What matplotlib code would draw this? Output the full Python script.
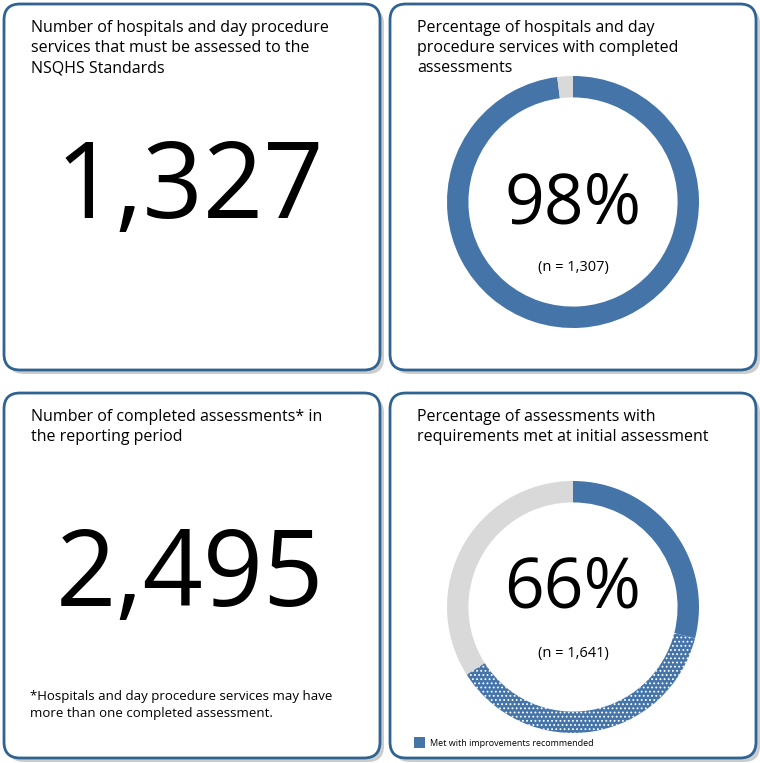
import matplotlib

matplotlib.use("Agg")
import matplotlib.pyplot as plt
from matplotlib.patches import FancyBboxPatch

plt.rcParams["font.family"] = "Open Sans"
plt.rcParams["hatch.color"] = "white"
plt.rcParams["hatch.linewidth"] = 0.8

BLUE = "#4474a8"
GREY = "#d9d9d9"
EDGE = "#2f6391"

titles = [
    "Number of hospitals and day procedure\nservices that must be assessed to the\nNSQHS Standards",
    "Percentage of hospitals and day\nprocedure services with completed\nassessments",
    "Number of completed assessments* in\nthe reporting period",
    "Percentage of assessments with\nrequirements met at initial assessment",
]
big_numbers = ["1,327", "2,495"]
completed_share = [98, 2]                   # completed, not completed
met_share = [29, 37, 34]                    # met, met with improvements, not met
pct_labels = ["98%", "66%"]
n_labels = ["(n = 1,307)", "(n = 1,641)"]
footnote = "*Hospitals and day procedure services may have\nmore than one completed assessment."
legend_label = "Met with improvements recommended"

W, H = 760, 763
fig = plt.figure(figsize=(W / 100, H / 100), dpi=100)
bg = fig.add_axes([0, 0, 1, 1])
bg.set_xlim(0, W)
bg.set_ylim(H, 0)
bg.axis("off")

panels = [(4, 4, 376, 366), (390, 4, 366, 366), (4, 393, 376, 365), (390, 393, 366, 365)]
for x, y, w, h in panels:
    bg.add_patch(FancyBboxPatch((x + 4, y + 4), w, h, boxstyle="round,pad=0,rounding_size=16",
                                fc="#9a9a9a", ec="none", alpha=0.5))
    bg.add_patch(FancyBboxPatch((x, y), w, h, boxstyle="round,pad=0,rounding_size=16",
                                fc="white", ec=EDGE, lw=2))

for (x, y, w, h), t in zip(panels, titles):
    bg.text(x + 27, y + 16, t, fontsize=11.5, va="top", ha="left", linespacing=1.35)

bg.text(190, 190, big_numbers[0], fontsize=76, ha="center", va="center")
bg.text(190, 578, big_numbers[1], fontsize=76, ha="center", va="center")
bg.text(30, 690, footnote, fontsize=9.5, va="top", ha="left", linespacing=1.4)


def donut(cx, cy, r, values, colors, hatches):
    ax = fig.add_axes([(cx - r) / W, 1 - (cy + r) / H, 2 * r / W, 2 * r / H])
    wedges, _ = ax.pie(values, colors=colors, startangle=90, counterclock=False,
                       wedgeprops=dict(width=0.17, linewidth=0))
    for wd, hz in zip(wedges, hatches):
        if hz:
            wd.set_hatch(hz)
    ax.set_xlim(-1, 1)
    ax.set_ylim(-1, 1)
    ax.set_aspect("equal")
    return ax


donut(573, 202, 126, completed_share, [BLUE, GREY], [None, None])
donut(573, 607, 126, met_share, [BLUE, BLUE, GREY], [None, "....", None])

bg.text(573, 205, pct_labels[0], fontsize=50, ha="center", va="center")
bg.text(573, 268, n_labels[0], fontsize=10.5, ha="center", va="center")
bg.text(573, 590, pct_labels[1], fontsize=50, ha="center", va="center")
bg.text(573, 653, n_labels[1], fontsize=10.5, ha="center", va="center")

bg.add_patch(plt.Rectangle((414, 737), 11, 11, fc=BLUE, ec="none", hatch="...."))
bg.text(430, 743, legend_label, fontsize=6.5, va="center", ha="left")

fig.savefig("out.png", dpi=100)
